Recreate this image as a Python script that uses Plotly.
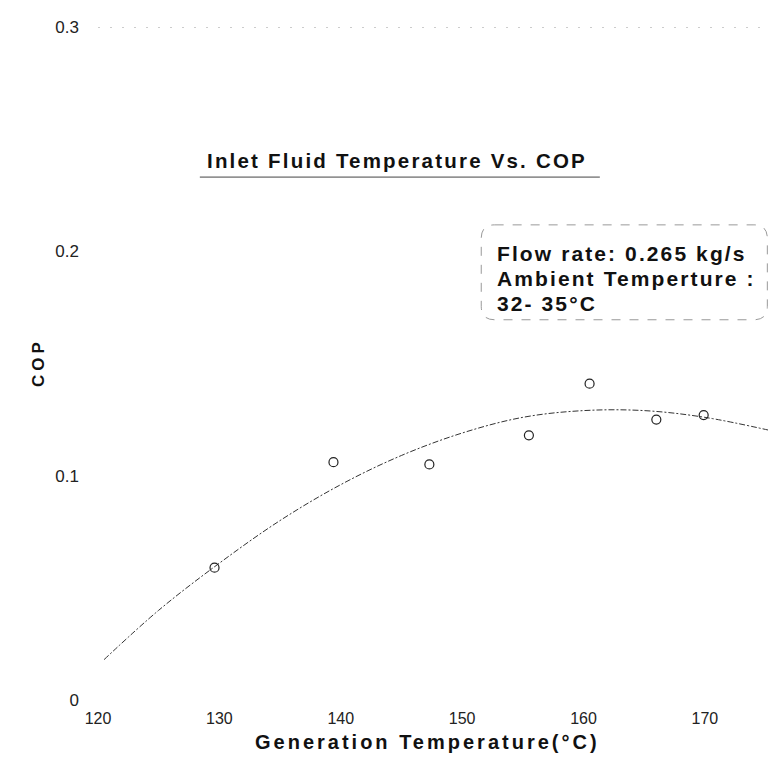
import plotly.graph_objects as go

# measured points
gen_temp = [129.6, 139.4, 147.3, 155.5, 160.5, 166.0, 169.9]
cop = [0.059, 0.106, 0.105, 0.118, 0.141, 0.125, 0.127]

# trend curve
fit_temp = [120.5, 125, 130, 135, 140, 145, 150, 155, 160, 165, 170, 175.5]
fit_cop = [0.018, 0.040, 0.061, 0.080, 0.096, 0.109, 0.119, 0.126, 0.129, 0.129, 0.126, 0.120]

x_ticks = [120, 130, 140, 150, 160, 170]
y_ticks = [0, 0.1, 0.2, 0.3]
y_tick_labels = ["0", "0.1", "0.2", "0.3"]

title_text = "Inlet Fluid Temperature Vs. COP"
x_title = "Generation Temperature(°C)"
y_title = "COP"
note_lines = ["Flow rate: 0.265 kg/s", "Ambient Temperture :", "32- 35°C"]

FONT = "Liberation Sans, Arial, sans-serif"


def spaced(text, px):
    return f'<span style="letter-spacing:{px}px"><b>{text}</b></span>'


fig = go.Figure()
fig.add_trace(go.Scatter(
    x=fit_temp, y=fit_cop, mode="lines",
    line=dict(color="#333333", width=1, dash="6px,2px,2px,2px", shape="spline"),
    hoverinfo="skip", showlegend=False))
fig.add_trace(go.Scatter(
    x=gen_temp, y=cop, mode="markers",
    marker=dict(symbol="circle-open", size=9, color="#222222", line=dict(width=1.2)),
    showlegend=False))

fig.update_layout(
    width=768, height=757,
    margin=dict(l=98, r=0, t=27, b=57),
    paper_bgcolor="white", plot_bgcolor="white",
    font=dict(family=FONT, size=15, color="#222222"),
    xaxis=dict(range=[120, 175.2], tickvals=x_ticks, showgrid=False, zeroline=False,
               showline=False, ticks="", ticklabelstandoff=7,
               tickfont=dict(size=16, color="#222222")),
    yaxis=dict(range=[0, 0.3], tickvals=y_ticks, ticktext=y_tick_labels, showgrid=False,
               zeroline=False, showline=False, ticks="", ticklabelstandoff=18,
               tickfont=dict(size=17, color="#222222")),
)

# top faint dotted line
fig.add_shape(type="line", xref="paper", yref="y", x0=0.0, x1=1.0, y0=0.3, y1=0.3,
              line=dict(color="#999999", width=1, dash="2px,10px"))

# axis titles
fig.add_annotation(xref="paper", yref="paper", x=0.4925, y=-0.063, text=spaced(x_title, 3),
                   showarrow=False, xanchor="center", yanchor="middle",
                   font=dict(family=FONT, size=20, color="#111111"))
fig.add_annotation(xref="paper", yref="paper", x=-0.0896, y=0.502, text=spaced(y_title, 4),
                   showarrow=False, xanchor="center", yanchor="middle", textangle=-90,
                   font=dict(family=FONT, size=17, color="#111111"))

# title with underline
fig.add_annotation(xref="paper", yref="paper", x=0.447, y=0.802, text=spaced(title_text, 2.2),
                   showarrow=False, xanchor="center", yanchor="middle",
                   font=dict(family=FONT, size=20.5, color="#111111"))
fig.add_shape(type="line", xref="paper", yref="paper", x0=0.152, x1=0.749, y0=0.777, y1=0.777,
              line=dict(color="#444444", width=1))

# rounded dashed box
x0, x1, y0, y1, r = 0.572, 0.999, 0.565, 0.706, 0.02
path = (f"M {x0+r},{y1} L {x1-r},{y1} Q {x1},{y1} {x1},{y1-r} L {x1},{y0+r} "
        f"Q {x1},{y0} {x1-r},{y0} L {x0+r},{y0} Q {x0},{y0} {x0},{y0+r} "
        f"L {x0},{y1-r} Q {x0},{y1} {x0+r},{y1} Z")
fig.add_shape(type="path", xref="paper", yref="paper", path=path,
              line=dict(color="#999999", width=1, dash="dash"))
for line_text, ypos in zip(note_lines, [0.664, 0.627, 0.589]):
    fig.add_annotation(xref="paper", yref="paper", x=0.593, y=ypos, text=spaced(line_text, 2.1),
                       showarrow=False, xanchor="left", yanchor="middle", align="left",
                       font=dict(family=FONT, size=21, color="#111111"))

fig.write_html("out.html", config={"displayModeBar": False},
               post_script="document.body.style.margin='0';document.body.style.overflow='hidden';")
